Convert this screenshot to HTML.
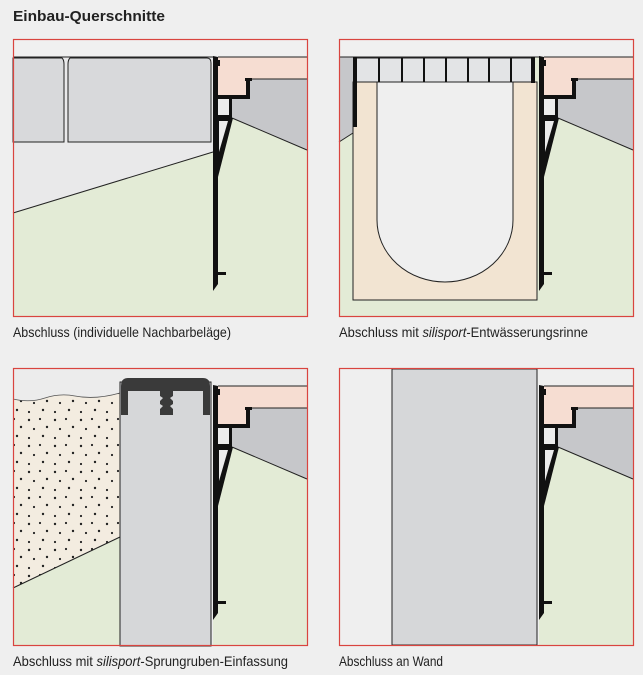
<!DOCTYPE html>
<html><head><meta charset="utf-8"><style>
html,body{margin:0;padding:0;background:#efefef;}
svg{display:block;}
text{font-family:"Liberation Sans Narrow","Liberation Sans",sans-serif;fill:#222;}
</style></head><body>
<svg width="643" height="675" viewBox="0 0 643 675" xmlns="http://www.w3.org/2000/svg">
<defs>
<pattern id="sand" width="26" height="26" patternUnits="userSpaceOnUse">
<rect width="26" height="26" fill="#f3ece0"/>
<circle cx="3" cy="4" r="1.2" fill="#222"/><circle cx="14" cy="3" r="1.1" fill="#222"/>
<circle cx="21" cy="11" r="1.2" fill="#222"/><circle cx="8" cy="13" r="1.1" fill="#222"/>
<circle cx="17" cy="20" r="1.2" fill="#222"/><circle cx="3" cy="22" r="1.1" fill="#222"/>
</pattern>
<g id="prof">
<rect x="213" y="57" width="94" height="260" fill="#e3ebd6"/>
<polygon points="218,79 307,79 307,150 232,118 218,118" fill="#c6c7ca"/>
<line x1="232" y1="118" x2="307" y2="150" stroke="#222" stroke-width="1"/>
<polygon points="218,57 307,57 307,79 250,79 250,95 218,95" fill="#f6ddd2"/>
<line x1="218" y1="57" x2="307" y2="57" stroke="#222" stroke-width="1"/>
<line x1="250" y1="79" x2="307" y2="79" stroke="#222" stroke-width="1"/>
<polygon points="213,56 218,57 218,284 213,291" fill="#111"/>
<rect x="218" y="60" width="2" height="6" fill="#111"/>
<rect x="218" y="95" width="32" height="4" fill="#111"/>
<rect x="246" y="79" width="4" height="20" fill="#111"/>
<rect x="245" y="78" width="7" height="3" fill="#111"/>
<rect x="218" y="99" width="11" height="16" fill="#ececec"/>
<rect x="229" y="95" width="3" height="23" fill="#111"/>
<rect x="218" y="115" width="14" height="3" fill="#111"/>
<polygon points="218,118 233,118 218,177" fill="#111"/>
<polygon points="219,121 228,121 219,152" fill="#ececec"/>
<rect x="218" y="272" width="8" height="3" fill="#111"/>
</g>
</defs>

<text x="13" y="21" font-size="15" font-weight="bold" textLength="152" lengthAdjust="spacingAndGlyphs">Einbau-Querschnitte</text>

<!-- Panel TL -->
<rect x="13" y="39" width="294" height="278" fill="#f0f0f0"/>
<rect x="13" y="57" width="200" height="260" fill="#e9e9ea"/>
<polygon points="13,213 213,152 213,317 13,317" fill="#e3ebd6"/>
<line x1="13" y1="213" x2="213" y2="152" stroke="#222"/>
<line x1="13" y1="57" x2="213" y2="57" stroke="#222"/>
<path d="M13,58 H62 Q64,60 64,64 V142 H13 Z" fill="#d8d9db" stroke="#222" stroke-width="1"/>
<path d="M68,64 Q68,60 70,58 H207 Q211,58 211,63 V142 H68 Z" fill="#d8d9db" stroke="#222" stroke-width="1"/>
<use href="#prof"/>
<rect x="13.5" y="39.5" width="294" height="277" fill="none" stroke="#d9443f" stroke-width="1.2"/>
<text x="13" y="337" font-size="14" textLength="218" lengthAdjust="spacingAndGlyphs">Abschluss (individuelle Nachbarbeläge)</text>

<!-- Panel TR -->
<rect x="339" y="39" width="294" height="278" fill="#f0f0f0"/>
<rect x="339" y="57" width="200" height="260" fill="#e3ebd6"/>
<polygon points="339,57 353,57 353,133 339,142" fill="#c6c7ca"/>
<line x1="339" y1="142" x2="353" y2="133" stroke="#222"/>
<line x1="339" y1="57" x2="539" y2="57" stroke="#222"/>
<rect x="353" y="82" width="184" height="218" fill="#f2e4d2" stroke="#222"/>
<path d="M377,82 V220 A68,62 0 0 0 513,220 V82 Z" fill="#efefef" stroke="#222"/>
<rect x="356" y="58" width="178" height="24" fill="#e3e4e6" stroke="#222"/>
<g fill="#111">
<rect x="353" y="57" width="4" height="70"/><rect x="531" y="57" width="4" height="26"/>
<rect x="378" y="58" width="2" height="24"/><rect x="401" y="58" width="2" height="24"/>
<rect x="423" y="58" width="2" height="24"/><rect x="445" y="58" width="2" height="24"/>
<rect x="467" y="58" width="2" height="24"/><rect x="488" y="58" width="2" height="24"/>
<rect x="510" y="58" width="2" height="24"/>
</g>
<use href="#prof" transform="translate(326,0)"/>
<rect x="339.5" y="39.5" width="294" height="277" fill="none" stroke="#d9443f" stroke-width="1.2"/>
<text x="339" y="337" font-size="14" textLength="249" lengthAdjust="spacingAndGlyphs">Abschluss mit <tspan font-style="italic">silisport</tspan>-Entwässerungsrinne</text>

<!-- Panel BL -->
<rect x="13" y="368" width="294" height="278" fill="#ececec"/>
<path d="M13,399 Q30,403 45,398 Q60,393 75,396 Q95,400 120,393 V537 L13,588 Z" fill="url(#sand)"/>
<path d="M13,399 Q30,403 45,398 Q60,393 75,396 Q95,400 120,393" fill="none" stroke="#555" stroke-width="0.8"/>
<polygon points="13,588 120,537 120,646 13,646" fill="#e3ebd6"/>
<line x1="13" y1="588" x2="120" y2="537" stroke="#222"/>
<use href="#prof" transform="translate(0,329)"/>
<rect x="120" y="382" width="91" height="264" fill="#d6d7d9" stroke="#222"/>
<path d="M121,415 V386 Q121,378 128,378 H203 Q210,378 210,386 V415 H203 V391 H173 V396 L170,398 L173,401 V404 L170,406 L173,409 V415 H160 V409 L163,406 L160,404 V401 L163,398 L160,396 V391 H128 V415 Z" fill="#3a3a3a"/>
<rect x="13.5" y="368.5" width="294" height="277" fill="none" stroke="#d9443f" stroke-width="1.2"/>
<text x="13" y="666" font-size="14" textLength="275" lengthAdjust="spacingAndGlyphs">Abschluss mit <tspan font-style="italic">silisport</tspan>-Sprungruben-Einfassung</text>

<!-- Panel BR -->
<rect x="339" y="368" width="294" height="278" fill="#efefef"/>
<use href="#prof" transform="translate(326,329)"/>
<rect x="392" y="369" width="145" height="276" fill="#d6d7d9" stroke="#222"/>
<rect x="339.5" y="368.5" width="294" height="277" fill="none" stroke="#d9443f" stroke-width="1.2"/>
<text x="339" y="666" font-size="14" textLength="104" lengthAdjust="spacingAndGlyphs">Abschluss an Wand</text>
</svg>
</body></html>
